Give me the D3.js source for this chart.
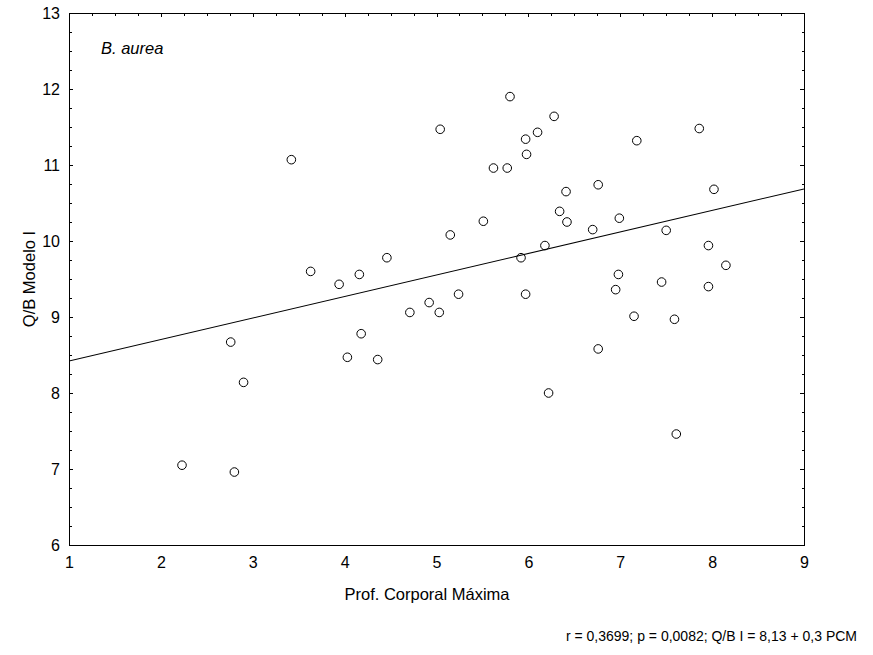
<!DOCTYPE html>
<html><head><meta charset="utf-8">
<script src="https://cdn.jsdelivr.net/npm/d3@7"></script>
<style>body{margin:0;background:#fff}svg{display:block}text{font-family:"Liberation Sans",Arial,sans-serif;fill:#000}</style>
</head><body>
<script>
const xVals = [2.23,2.80,2.76,2.90,3.63,3.94,4.16,4.46,5.92,5.97,5.24,4.92,4.71,5.03,4.18,4.03,4.36,6.22,
  3.42,5.04,5.80,6.28,6.10,5.97,5.98,5.62,5.77,5.51,5.15,6.18,
  6.41,6.76,6.34,6.42,7.18,7.86,8.02,6.99,6.70,7.50,7.96,
  8.15,6.98,6.95,7.45,7.96,7.15,7.59,6.76,7.61];
const yVals = [7.05,6.96,8.67,8.14,9.60,9.43,9.56,9.78,9.78,9.30,9.30,9.19,9.06,9.06,8.78,8.47,8.44,8.00,
  11.07,11.47,11.90,11.64,11.43,11.34,11.14,10.96,10.96,10.26,10.08,9.94,
  10.65,10.74,10.39,10.25,11.32,11.48,10.68,10.30,10.15,10.14,9.94,
  9.68,9.56,9.36,9.46,9.40,9.01,8.97,8.58,7.46];
const fitIntercept = 8.138, fitSlope = 0.283;
const xTicks = [1,2,3,4,5,6,7,8,9];
const yTicks = [6,7,8,9,10,11,12,13];
const xTitle = "Prof. Corporal Máxima";
const yTitle = "Q/B Modelo I";
const species = "B. aurea";
const footer = "r = 0,3699; p = 0,0082; Q/B I = 8,13 + 0,3 PCM";

const W = 873, H = 655;
const L = 69, R = 804, T = 13, B = 545;
const svg = d3.select("body").append("svg").attr("width", W).attr("height", H);
const x = d3.scaleLinear().domain([1, 9]).range([L, R]);
const y = d3.scaleLinear().domain([6, 13]).range([B, T]);

const minorX = d3.range(1, 9.001, 0.25);
const minorY = d3.range(6, 13.001, 0.25);

const g = svg.append("g").attr("stroke", "#000").attr("stroke-width", 1).attr("shape-rendering","crispEdges");
minorX.forEach(v => {
  const major = Math.abs(v - Math.round(v)) < 1e-6;
  g.append("line").attr("x1", Math.round(x(v))+0.5).attr("x2", Math.round(x(v))+0.5)
    .attr("y1", T).attr("y2", T + (major ? 4 : 2.5));
});
minorY.forEach(v => {
  const major = Math.abs(v - Math.round(v)) < 1e-6;
  const yy = Math.round(y(v))+0.5;
  g.append("line").attr("x1", L).attr("x2", L + (major ? 4 : 2.5)).attr("y1", yy).attr("y2", yy);
  g.append("line").attr("x1", R).attr("x2", R - (major ? 4 : 2.5)).attr("y1", yy).attr("y2", yy);
});

svg.append("rect").attr("x", L+0.5).attr("y", T+0.5).attr("width", R-L).attr("height", B-T)
  .attr("fill", "none").attr("stroke", "#000").attr("stroke-width", 1).attr("shape-rendering","crispEdges");

const xAxis = svg.append("g").attr("transform", `translate(0,${B})`)
  .call(d3.axisBottom(x).tickValues(xTicks).tickSize(0).tickPadding(12).tickFormat(d3.format("d")));
xAxis.select(".domain").remove();
xAxis.selectAll("text").attr("font-size", 16).attr("font-family", "Liberation Sans, Arial, sans-serif");
const yAxis = svg.append("g").attr("transform", `translate(${L},0)`)
  .call(d3.axisLeft(y).tickValues(yTicks).tickSize(0).tickPadding(9).tickFormat(d3.format("d")));
yAxis.select(".domain").remove();
yAxis.selectAll("text").attr("font-size", 16).attr("font-family", "Liberation Sans, Arial, sans-serif");

svg.append("clipPath").attr("id", "clip").append("rect").attr("x", L).attr("y", T).attr("width", R-L).attr("height", B-T);
svg.append("line").attr("clip-path", "url(#clip)")
  .attr("x1", x(1)).attr("y1", y(fitIntercept + fitSlope*1))
  .attr("x2", x(9)).attr("y2", y(fitIntercept + fitSlope*9))
  .attr("stroke", "#000").attr("stroke-width", 1.1);

svg.append("g").selectAll("circle").data(xVals.map((v,i)=>[v,yVals[i]])).join("circle")
  .attr("cx", d => x(d[0])).attr("cy", d => y(d[1])).attr("r", 4.3)
  .attr("fill", "none").attr("stroke", "#000").attr("stroke-width", 1);

svg.append("text").attr("x", 101).attr("y", 54).attr("font-size", 16.5).attr("font-style", "italic").text(species);
svg.append("text").attr("x", 427).attr("y", 600).attr("text-anchor", "middle").attr("font-size", 16.5).text(xTitle);
svg.append("text").attr("transform", `translate(35,${(T+B)/2}) rotate(-90)`).attr("text-anchor", "middle").attr("font-size", 16.5).text(yTitle);
svg.append("text").attr("x", 857).attr("y", 641).attr("text-anchor", "end").attr("font-size", 14).text(footer);
</script>
</body></html>
